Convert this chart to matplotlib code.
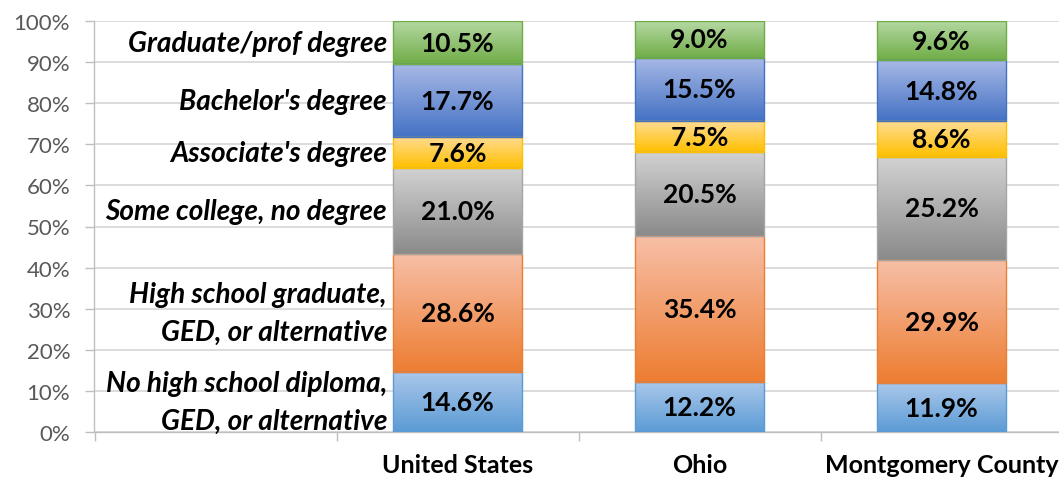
import matplotlib
matplotlib.use('Agg')
import matplotlib.pyplot as plt
import numpy as np
from matplotlib.colors import LinearSegmentedColormap

regions = ['United States', 'Ohio', 'Montgomery County']
levels = ['No high school diploma,\nGED, or alternative',
          'High school graduate,\nGED, or alternative',
          'Some college, no degree',
          "Associate's degree",
          "Bachelor's degree",
          'Graduate/prof degree']
no_hs = [14.6, 12.2, 11.9]
hs_grad = [28.6, 35.4, 29.9]
some_college = [21.0, 20.5, 25.2]
associate = [7.6, 7.5, 8.6]
bachelor = [17.7, 15.5, 14.8]
graduate = [10.5, 9.0, 9.6]
y_ticks = [0, 10, 20, 30, 40, 50, 60, 70, 80, 90, 100]

series = [no_hs, hs_grad, some_college, associate, bachelor, graduate]
# (top light, bottom dark, edge)
colors = [('#abc8ea', '#5b9bd5', '#5b9bd5'),
          ('#f7bfa7', '#ed7d31', '#ed7d31'),
          ('#d3d3d3', '#8a8a8a', '#a5a5a5'),
          ('#ffdc94', '#ffc000', '#ffc000'),
          ('#a8b9e6', '#4472c4', '#4472c4'),
          ('#b6d9a4', '#70ad47', '#70ad47')]

W, H, DPI = 1059, 481, 100
fig = plt.figure(figsize=(W / DPI, H / DPI), dpi=DPI)
ax = fig.add_axes([94.5 / W, 48 / H, 968 / W, 411 / H])

x = np.arange(1, len(regions) + 1)
bw = 0.533
bottom = np.zeros(len(regions))
grad = np.linspace(1, 0, 256).reshape(-1, 1)  # row 0 = bottom = dark
for vals, (ctop, cbot, cedge) in zip(series, colors):
    vals = np.array(vals)
    bars = ax.bar(x, vals, bw, bottom=bottom, facecolor='none',
                  edgecolor=cedge, linewidth=1.0, zorder=4)
    cmap = LinearSegmentedColormap.from_list('g', [ctop, cbot])
    for b in bars:
        x0, y0 = b.get_x(), b.get_y()
        im = ax.imshow(grad, extent=[x0, x0 + b.get_width(), y0, y0 + b.get_height()],
                       aspect='auto', cmap=cmap, origin='lower', zorder=3,
                       interpolation='bilinear', vmin=0, vmax=1)
        im.set_clip_path(b)
    for xi, v, bt in zip(x, vals, bottom):
        ax.text(xi, bt + v / 2, f'{v:.1f}%', ha='center', va='center',
                fontsize=19, fontweight='bold', family='Lato', color='black', zorder=5)
    bottom = bottom + vals

# category labels beside the first bar, at the first region's segment centers
cum = 0.0
for lab, vals in zip(levels, series):
    yc = cum + vals[0] / 2
    cum += vals[0]
    ax.annotate(lab, xy=(x[0] - bw / 2, yc), xytext=(-6, 0), textcoords='offset pixels',
                ha='right', va='center', fontsize=20.2, fontweight='bold', style='italic',
                family='Lato', color='black', linespacing=1.55, zorder=5)

ax.set_xlim(-0.5, 3.5)
ax.set_ylim(0, 100)
ax.set_yticks(y_ticks)
ax.set_yticklabels([f'{t}%' for t in y_ticks], family='Lato', fontsize=16, color='#595959')
ax.set_xticks([-0.5, 0.5, 1.5, 2.5, 3.5])
ax.set_xticklabels([])
ax.set_xticks(x, minor=True)
ax.set_xticklabels(regions, minor=True, family='Lato', fontsize=18,
                   fontweight='bold', color='black')
ax.tick_params(axis='x', which='minor', length=0, pad=15)
ax.tick_params(axis='x', which='major', length=6.5, color='#bfbfbf', width=1)
ax.tick_params(axis='y', length=6.5, color='#bfbfbf', width=1, pad=11)
ax.yaxis.grid(True, color='#d9d9d9', linewidth=1.3, zorder=0)
ax.set_axisbelow(True)
for s in ['top', 'right']:
    ax.spines[s].set_visible(False)
for s in ['left', 'bottom']:
    ax.spines[s].set_color('#bfbfbf')
    ax.spines[s].set_linewidth(1)

fig.savefig('out.png', dpi=DPI)
